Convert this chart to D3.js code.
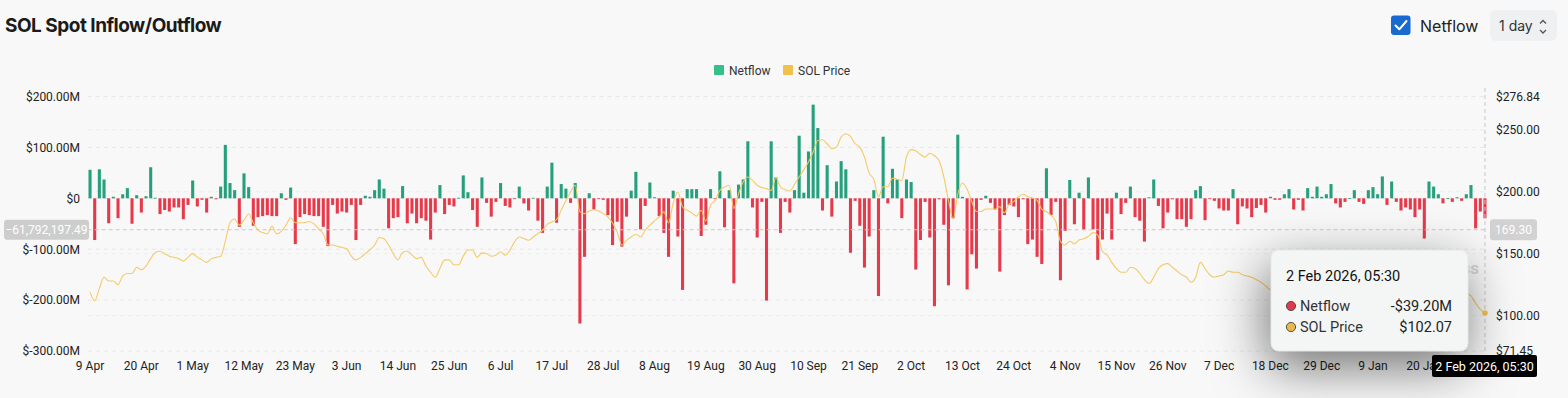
<!DOCTYPE html>
<html><head><meta charset="utf-8">
<script src="https://cdn.jsdelivr.net/npm/d3@7"></script>
<style>
html,body{margin:0;padding:0;background:#f8f8f8;}
svg{display:block;font-family:Roboto,"Noto Sans",sans-serif;}
</style></head><body>
<svg id="chart" width="1568" height="398"></svg>
<script>
// ---------- data ----------
const startDate = "2025-04-09";
const endDateExclusive = "2026-02-03";
const seriesNames = ["Netflow", "SOL Price"];
// daily spot netflow, millions of USD
const netflowM = [
 56,-82,57,37,-49,3,-39,8,20,-50, 6,-28,4,61,1,-31,-23,-26,-18,-18,
 -41,-13,35,-16,-3,-28,3,-2,23,105, 30,16,-56,49,22,-54,-37,-35,-33,-35,
 -35,10,-3,21,-90,-37,-31,-33,-35,-35, -56,-94,-13,-30,-26,-28,-13,-82,-13,5,
 3,16,37,19,-59,-39,-37,24,-49,-30, -49,-39,-44,-81,-28,26,-31,-13,-16,1,
 45,12,-23,-56,41,-9,-36,-7,30,-15, -18,-1,23,-10,-24,1,-44,-68,23,70,
 -48,28,19,-9,30,-246,-115,10,-22,-1, -3,-33,-92,-46,-95,-36,15,52,-61,-15,
 31,2,-35,-68,-115,15,-75,-180,18,18, 18,-74,-52,18,-1,53,-57,16,-167,27,
 37,112,-18,-77,-7,-201,112,41,-68,-7, -28,16,123,11,92,184,138,-24,65,-36,
 33,73,57,-107,-5,-54,-136,-75,16,-192, 121,-10,58,37,-39,37,32,-140,-82,-7,
 -77,-212,-2,-52,-171,-39,125,3,-179,-110, -138,-3,5,-9,-22,-144,-33,-13,-16,-37,
 -2,-90,-81,-115,-129,59,-33,-7,-161,-64, 36,-51,11,-62,41,-61,-121,-81,-30,-81,
 11,-31,-9,23,-37,-44,-85,2,37,-15, -59,-28,-2,-41,-41,-56,-41,16,24,-43,
 -1,-5,-20,-24,-24,18,-51,-16,-20,-37, -19,-13,-28,3,-3,-3,8,18,-22,-3,
 -24,20,3,23,3,8,28,-10,-18,-7, 0.5,16,-7,-11,16,22,8,43,-13,33,
 -7,-24,-18,-22,-37,-22,-79,33,23,8, -10,0.5,-7,2,-5,8,26,-59,-26,-39.2
];
// daily SOL price, USD
const solPrice = [
 119,112,122,131,128,128,125,132,134,134, 139,137,140,146,151,152,150,148,147,146,
 144,147,150,147,145,143,146,147,148,160, 175,178,173,177,182,175,169,167,166,172,
 166,168,173,179,175,175,175,176,174,170, 166,157,157,156,155,154,148,145,147,150,
 153,157,163,162,157,150,145,151,152,149, 146,147,140,135,131,138,145,145,141,141,
 148,153,153,147,150.6,150,148,148.8,151.5,148.8, 152.8,159.5,163.5,162.2,160.8,163.5,166.2,168.9,173.7,175.6,
 177.5,185,193,199.8,205.2,183.7,182.3,184.5,185.5,184.5, 182.3,179.6,174.8,167.6,156.8,160.8,163.5,165.7,163.5,168.9,
 173,176.4,179.6,183.7,174.8,190.9,199.8,187.7,185,182.9, 180.2,185,176.4,189,193,201.1,203.8,205.2,186.4,198.4,
 207.8,211.9,209.2,205.2,203.3,202.5,201.1,211.3,203.8,201.6, 200.6,206,211.9,217.8,224,232,241.4,241.9,238.7,234.7,
 236,244.1,246.8,244.6,238.7,236,228,215,210,196, 204,204,211,210,209,228,234,233,230,228,
 231,229,225,212,193,178,198,207,202,192, 184,184,186,186,186,188,183,190,192,196,
 198,196,195,193,186,184,181,176,160,157, 160,158,161,162,164,167,165,152,149,143,
 138,135,135,139,138,134,129,126,131,138, 141,142,139,136,133,131,127,131,143,138,
 133,131,132,133,136,135,135,133,132,131, 129,127,124,121,122,125,124,122,123,122,
 122,123,124,125,124,126,125,126,128,131, 134,137,138,136,137,139,141,143,142,145,
 143,141,139,134,132,128,127,128,127,125, 124,123,121,118,119,118,116,110,105,102.07
];
const tickLabels = ["9 Apr","20 Apr","1 May","12 May","23 May","3 Jun","14 Jun","25 Jun","6 Jul","17 Jul","28 Jul","8 Aug","19 Aug","30 Aug","10 Sep","21 Sep","2 Oct","13 Oct","24 Oct","4 Nov","15 Nov","26 Nov","7 Dec","18 Dec","29 Dec","9 Jan","20 Jan"];
const tickEvery = 11;
const leftTicks = [200, 100, 0, -100, -200, -300];
const rightTicks = [276.84, 250, 200, 150, 100, 71.45];
const crosshairNetflow = -61792197.49;
const hoverLabel = "2 Feb 2026, 05:30";

// ---------- build ----------
const parse = d3.timeParse("%Y-%m-%d");
const dates = d3.timeDay.range(parse(startDate), parse(endDateExclusive));
const data = dates.map((d, i) => ({i, date: d, flow: netflowM[i], price: solPrice[i]}));

const svg = d3.select("#chart");
const W = 1568, H = 398;
const plotL = 87.7, plotR = 1487.3, plotT = 96.5, plotB = 351;

const x = d3.scaleBand().domain(data.map(d => d.i)).range([plotL, plotR]).paddingInner(0.34).paddingOuter(0.17);
const yL = d3.scaleLinear().domain([-300, 200]).range([plotB, plotT]);
const yR = d3.scaleLinear().domain([71.45, 276.84]).range([plotB, plotT]);
const cx = i => x(i) + x.bandwidth() / 2;

const defs = svg.append("defs");
const f = defs.append("filter").attr("id", "tipShadow").attr("x", "-60%").attr("y", "-60%").attr("width", "220%").attr("height", "220%");
f.append("feDropShadow").attr("dx", -4).attr("dy", 16).attr("stdDeviation", 26).attr("flood-color", "#000").attr("flood-opacity", 0.55);

svg.append("rect").attr("width", W).attr("height", H).attr("fill", "#f8f8f8");

// title
svg.append("text").attr("x", 5).attr("y", 32).text("SOL Spot Inflow/Outflow")
  .attr("font-family", "Inter, 'Noto Sans', sans-serif").attr("font-weight", 700).attr("font-size", 19)
  .attr("letter-spacing", -0.5).attr("fill", "#1b1b1b");

// checkbox + Netflow
svg.append("rect").attr("x", 1391).attr("y", 15.5).attr("width", 19.5).attr("height", 19.5).attr("rx", 3).attr("fill", "#1869d0");
svg.append("path").attr("d", "M1395.5,25.5 L1399.3,29.3 L1406.5,21").attr("fill", "none").attr("stroke", "#fff").attr("stroke-width", 2).attr("stroke-linecap", "round").attr("stroke-linejoin", "round");
svg.append("text").attr("x", 1420).attr("y", 31.5).text("Netflow").attr("font-family", "Inter, 'Noto Sans', sans-serif").attr("font-size", 16).attr("fill", "#222");

// 1 day selector
svg.append("rect").attr("x", 1490).attr("y", 10).attr("width", 67).attr("height", 31).attr("rx", 6).attr("fill", "#eef0f1");
svg.append("text").attr("x", 1499).attr("y", 30.5).text("1 day").attr("font-family", "Inter, 'Noto Sans', sans-serif").attr("font-size", 14).attr("fill", "#333");
svg.append("path").attr("d", "M1540,23.5 L1543,20.5 L1546,23.5 M1540,30 L1543,33 L1546,30").attr("fill", "none").attr("stroke", "#555").attr("stroke-width", 1.3);

// legend
const legendItems = [{name: seriesNames[0], color: "#33c089", x: 714}, {name: seriesNames[1], color: "#f0c24c", x: 783}];
legendItems.forEach(it => {
  svg.append("rect").attr("x", it.x).attr("y", 65).attr("width", 10).attr("height", 10).attr("rx", 1).attr("fill", it.color);
  svg.append("text").attr("x", it.x + 15).attr("y", 74.5).text(it.name).attr("font-size", 12).attr("fill", "#333");
});

// grid
const grid = svg.append("g");
leftTicks.forEach(t => grid.append("line").attr("x1", plotL).attr("x2", plotR).attr("y1", yL(t)).attr("y2", yL(t))
  .attr("stroke", t === 0 ? "#e2e2e2" : "#e6e6e6").attr("stroke-dasharray", "4,4"));
rightTicks.slice(1, -1).forEach(t => grid.append("line").attr("x1", plotL).attr("x2", plotR).attr("y1", yR(t)).attr("y2", yR(t))
  .attr("stroke", "#ececec").attr("stroke-dasharray", "4,4"));

// watermark (mostly under tooltip)
svg.append("text").attr("x", 1479).attr("y", 274).attr("text-anchor", "end").text("coinglass")
  .attr("font-size", 17).attr("font-weight", 600).attr("fill", "#d4d4d4");

// bars
svg.append("g").selectAll("rect").data(data).join("rect")
  .attr("x", d => x(d.i)).attr("width", x.bandwidth())
  .attr("y", d => Math.min(yL(d.flow), yL(0)))
  .attr("height", d => Math.max(0.8, Math.abs(yL(d.flow) - yL(0))))
  .attr("fill", d => d.flow >= 0 ? "#26a07c" : "#e63a4b");

// price line
const line = d3.line().x(d => cx(d.i)).y(d => yR(d.price)).curve(d3.curveMonotoneX);
svg.append("path").datum(data).attr("d", line).attr("fill", "none").attr("stroke", "#f3c860").attr("stroke-width", 1.1).attr("opacity", 0.95);

// axes
const fmtL = v => v === 0 ? "$0" : "$" + v.toFixed(2) + "M";
const axL = svg.append("g").attr("transform", `translate(84,0)`)
  .call(d3.axisLeft(yL).tickValues(leftTicks).tickFormat(fmtL).tickSize(0).tickPadding(4));
const axR = svg.append("g").attr("transform", `translate(1492,0)`)
  .call(d3.axisRight(yR).tickValues(rightTicks).tickFormat(v => "$" + v.toFixed(2)).tickSize(0).tickPadding(4));
const tickIdx = tickLabels.map((_, k) => k * tickEvery);
const axB = svg.append("g").attr("transform", `translate(0,351)`)
  .call(d3.axisBottom(x).tickValues(tickIdx).tickFormat(i => tickLabels[i / tickEvery]).tickSize(0).tickPadding(10));
[axL, axR, axB].forEach(a => {
  a.select(".domain").remove();
  a.selectAll("text").attr("font-family", "Roboto, 'Noto Sans', sans-serif").attr("font-size", 12).attr("fill", "#222");
});

// crosshair
const last = data[data.length - 1];
const hx = cx(last.i);
const hy = yL(crosshairNetflow / 1e6);
svg.append("line").attr("x1", plotL).attr("x2", plotR).attr("y1", hy).attr("y2", hy).attr("stroke", "#c9c9c9").attr("stroke-dasharray", "4,3");
svg.append("line").attr("x1", hx).attr("x2", hx).attr("y1", 88).attr("y2", plotB + 2).attr("stroke", "#c9c9c9").attr("stroke-dasharray", "4,3");
svg.append("circle").attr("cx", hx).attr("cy", yR(last.price)).attr("r", 2.8).attr("fill", "#f3c453");

svg.append("rect").attr("x", 4).attr("y", hy - 10).attr("width", 85).attr("height", 20).attr("rx", 3).attr("fill", "#cdcdcd");
svg.append("text").attr("x", 46.5).attr("y", hy + 4.3).attr("text-anchor", "middle").text(d3.format(",.2f")(crosshairNetflow))
  .attr("font-size", 12).attr("fill", "#fff");
svg.append("rect").attr("x", 1490).attr("y", hy - 10.5).attr("width", 47).attr("height", 21).attr("rx", 3).attr("fill", "#d2d2d2");
svg.append("text").attr("x", 1513.5).attr("y", hy + 4.3).attr("text-anchor", "middle").text(yR.invert(hy).toFixed(2))
  .attr("font-size", 12).attr("fill", "#fff");

// tooltip
const tip = svg.append("g");
tip.append("rect").attr("x", 1271).attr("y", 250).attr("width", 197).attr("height", 101).attr("rx", 8)
  .attr("fill", "#f4f5f5").attr("filter", "url(#tipShadow)");
tip.append("rect").attr("x", 1271).attr("y", 250).attr("width", 197).attr("height", 101).attr("rx", 8)
  .attr("fill", "#f4f5f5").attr("stroke", "#e6e7e7");
const tf = "Roboto, 'Noto Sans', sans-serif";
tip.append("text").attr("x", 1286).attr("y", 281).text(hoverLabel).attr("font-family", tf).attr("font-size", 14.5).attr("fill", "#111");
const rows = [
  {name: seriesNames[0], val: (last.flow < 0 ? "-$" : "$") + Math.abs(last.flow).toFixed(2) + "M", color: "#e0394d", y: 311},
  {name: seriesNames[1], val: "$" + last.price.toFixed(2), color: "#e8b84a", y: 332}
];
rows.forEach(r => {
  tip.append("circle").attr("cx", 1291).attr("cy", r.y - 5).attr("r", 4.6).attr("fill", r.color).attr("stroke", "#444").attr("stroke-width", 0.9);
  tip.append("text").attr("x", 1300).attr("y", r.y).text(r.name).attr("font-family", tf).attr("font-size", 14.5).attr("fill", "#333");
  tip.append("text").attr("x", 1452).attr("y", r.y).attr("text-anchor", "end").text(r.val).attr("font-family", tf).attr("font-size", 14.5).attr("fill", "#222");
});

// x crosshair label (covers the end of the last tick label, as in the source)
svg.append("rect").attr("x", 1432).attr("y", 355).attr("width", 105).attr("height", 22).attr("rx", 2).attr("fill", "#000");
svg.append("text").attr("x", 1484.5).attr("y", 370.5).attr("text-anchor", "middle").text(hoverLabel)
  .attr("font-size", 12.5).attr("fill", "#fff");
</script>
</body></html>
